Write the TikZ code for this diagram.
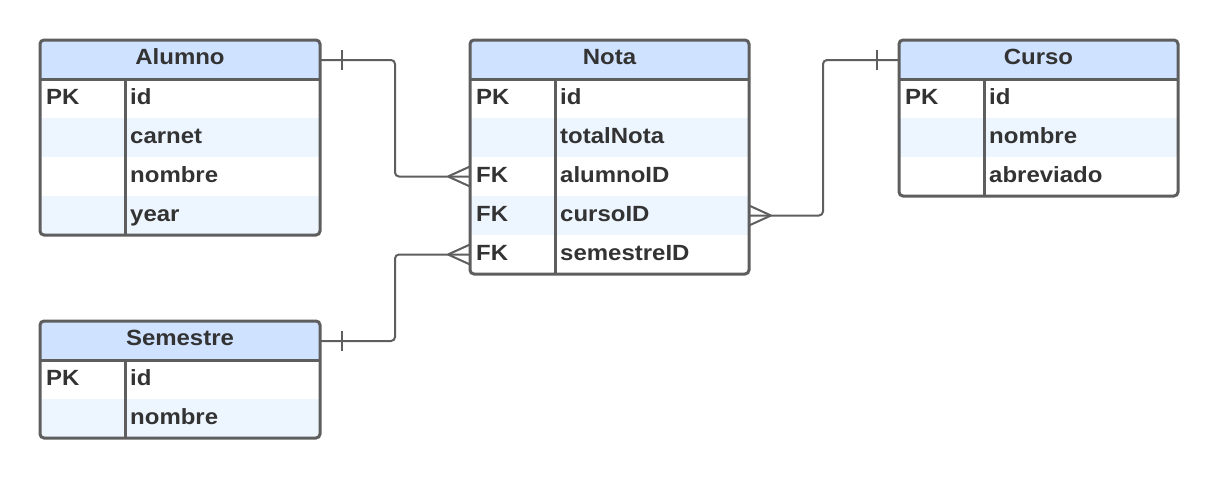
\documentclass[tikz,border=0pt]{standalone}
\usepackage{fontspec}
\setmainfont{Liberation Sans}
\newfontfamily\erfont[FakeStretch=1.09]{Liberation Sans}
\definecolor{hdr}{HTML}{CFE2FF}
\definecolor{alt}{HTML}{EDF5FF}
\definecolor{bd}{HTML}{5E5E5E}
\definecolor{txt}{HTML}{333333}
\tikzset{
  tbl/.style={draw=bd, line width=3pt, rounded corners=4pt},
  sep/.style={draw=bd, line width=3pt},
  ttl/.style={font=\erfont\bfseries\fontsize{22}{24}\selectfont, text=txt, anchor=base, inner sep=0pt},
  fld/.style={font=\erfont\bfseries\fontsize{22}{24}\selectfont, text=txt, anchor=base west, inner sep=0pt},
  conn/.style={draw=bd, line width=2pt, rounded corners=4pt},
  crow/.style={draw=bd, line width=2pt},
}
% #1 id, #2 x, #3 y, #4 width, #5 title, #6 number of rows, #7 rows key/field
\newcommand\ertable[7]{%
  \pgfmathsetmacro\tblH{39*(#6+1)}
  \begin{scope}
    \clip[rounded corners=4pt] (#2,#3) rectangle ++(#4,\tblH);
    \fill[hdr] (#2,#3) rectangle ++(#4,39);
    \foreach \k/\f [count=\i] in {#7} {
      \pgfmathsetmacro\ry{#3+39*\i}
      \ifodd\i\else\fill[alt] (#2,\ry) rectangle ++(#4,39);\fi
    }
  \end{scope}
  \node[ttl] (#1-t) at (#2+#4/2, #3+24.5) {#5};
  \foreach \k/\f [count=\i] in {#7} {
    \pgfmathsetmacro\ry{#3+39*\i}
    \node[fld] (#1-k\i) at (#2+6, \ry+25) {\k};
    \node[fld] (#1-f\i) at (#2+90, \ry+25) {\f};
    \coordinate (#1-L\i) at (#2, \ry+19.5);
    \coordinate (#1-R\i) at (#2+#4, \ry+19.5);
  }
  \coordinate (#1-hL) at (#2, #3+20);
  \coordinate (#1-hR) at (#2+#4, #3+20);
  \draw[sep] (#2,#3+39) -- ++(#4,0);
  \draw[sep] (#2+85,#3+39) -- (#2+85,#3+\tblH);
  \draw[tbl] (#2,#3) rectangle ++(#4,\tblH);
}
\begin{document}
\begin{tikzpicture}[x=1pt,y=-1pt]
  \fill[white] (0,0) rectangle (1219,480);
  \useasboundingbox (0,0) rectangle (1219,480);

  \ertable{alumno}{40}{40}{280}{Alumno}{4}{PK/id,/carnet,/nombre,/year}
  \ertable{nota}{470}{40}{279}{Nota}{5}{PK/id,/totalNota,FK/alumnoID,FK/cursoID,FK/semestreID}
  \ertable{curso}{899}{40}{279}{Curso}{3}{PK/id,/nombre,/abreviado}
  \ertable{semestre}{40}{321}{280}{Semestre}{2}{PK/id,/nombre}

  % Alumno 1 -- N Nota
  \draw[conn] (alumno-hR) -- ++(75,0) |- (nota-L3);
  \draw[crow] ([xshift=22pt,yshift=-10pt]alumno-hR) -- ([xshift=22pt,yshift=10pt]alumno-hR);
  \draw[crow] ([xshift=-22pt]nota-L3) -- ([yshift=10pt]nota-L3)
              ([xshift=-22pt]nota-L3) -- ([yshift=-10pt]nota-L3);

  % Curso 1 -- N Nota
  \draw[conn] (curso-hL) -- ++(-76,0) |- (nota-R4);
  \draw[crow] ([xshift=-22pt,yshift=-10pt]curso-hL) -- ([xshift=-22pt,yshift=10pt]curso-hL);
  \draw[crow] ([xshift=22pt]nota-R4) -- ([yshift=10pt]nota-R4)
              ([xshift=22pt]nota-R4) -- ([yshift=-10pt]nota-R4);

  % Semestre 1 -- N Nota
  \draw[conn] (semestre-hR) -- ++(75,0) |- (nota-L5);
  \draw[crow] ([xshift=22pt,yshift=-10pt]semestre-hR) -- ([xshift=22pt,yshift=10pt]semestre-hR);
  \draw[crow] ([xshift=-22pt]nota-L5) -- ([yshift=10pt]nota-L5)
              ([xshift=-22pt]nota-L5) -- ([yshift=-10pt]nota-L5);
\end{tikzpicture}
\end{document}
